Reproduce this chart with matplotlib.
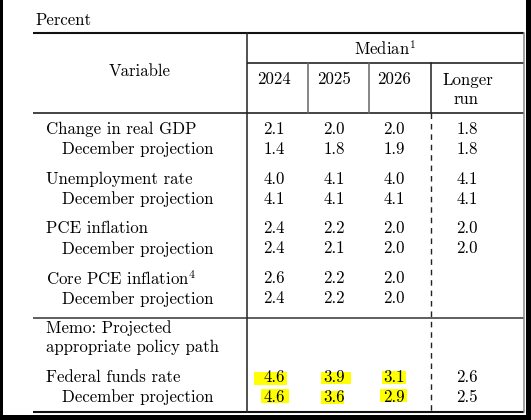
import matplotlib
matplotlib.use("Agg")
import matplotlib.pyplot as plt
from matplotlib.patches import Rectangle

plt.rcParams['font.family'] = ['cmr10', 'DejaVu Serif']
plt.rcParams['mathtext.fontset'] = 'cm'
plt.rcParams['axes.unicode_minus'] = False

# ---------------- data ----------------
unit_label = "Percent"
header_group = "Median$^1$"
header_var = "Variable"
columns = ["2024", "2025", "2026", "Longer\nrun"]

row_labels = ["Change in real GDP", "December projection",
              "Unemployment rate", "December projection",
              "PCE inflation", "December projection",
              "Core PCE inflation$^4$", "December projection",
              "Memo: Projected", "appropriate policy path",
              "Federal funds rate", "December projection"]
row_indent = [0, 1, 0, 1, 0, 1, 0, 1, 0, 0, 0, 1]

vals_2024 = [2.1, 1.4, 4.0, 4.1, 2.4, 2.4, 2.6, 2.4, None, None, 4.6, 4.6]
vals_2025 = [2.0, 1.8, 4.1, 4.1, 2.2, 2.1, 2.2, 2.2, None, None, 3.9, 3.6]
vals_2026 = [2.0, 1.9, 4.0, 4.1, 2.0, 2.0, 2.0, 2.0, None, None, 3.1, 2.9]
vals_longer = [1.8, 1.8, 4.1, 4.1, 2.0, 2.0, None, None, None, None, 2.6, 2.5]
value_cols = [vals_2024, vals_2025, vals_2026, vals_longer]

# highlighted cells (row index, column index)
highlighted = [(10, 0), (10, 1), (10, 2), (11, 0), (11, 1), (11, 2)]

# ---------------- layout (pixels) ----------------
W, H = 531, 420
row_y = [129.5, 149.3, 179.2, 199.2, 228.6, 248.6, 278.6, 298.6, 327.6, 347.6, 377, 397.5]
col_x = [274, 334, 394, 467]
label_x = [45.5, 62.5]
FS = 12.1
TXT = '#000000'

# per-cell highlight boxes: (dx, dy, w, h) relative to cell center
hl_geom = {(10, 0): (-3.5, 1.5, 33, 13), (10, 1): (2, 1.2, 30, 12), (10, 2): (-0.3, 0.4, 24, 13.3),
           (11, 0): (1, -1.2, 28, 14), (11, 1): (-1.5, 0, 23, 13), (11, 2): (-1, -2, 27, 13)}

fig = plt.figure(figsize=(W / 100, H / 100), dpi=100)
ax = fig.add_axes([0, 0, 1, 1])
ax.set_xlim(0, W)
ax.set_ylim(H, 0)
ax.axis('off')

# highlights
for (r, c) in highlighted:
    dx, dy, w, h = hl_geom[(r, c)]
    cx, cy = col_x[c] + dx, row_y[r] + dy
    ax.add_patch(Rectangle((cx - w / 2, cy - h / 2), w, h, facecolor='#ffff00',
                           edgecolor='none', zorder=1))

# lines
dark = '#111111'
grey = '#666666'
ax.plot([33, 523.5], [33.3, 33.3], color=dark, lw=1.5, solid_capstyle='butt')
ax.plot([33, 523.5], [113.3, 113.3], color=dark, lw=1.1, solid_capstyle='butt')
ax.plot([33, 523.5], [317.7, 317.7], color='#333333', lw=1.1, solid_capstyle='butt')
ax.plot([33, 523.5], [411.7, 411.7], color=dark, lw=1.5, solid_capstyle='butt')
ax.plot([246.5, 523.5], [63.3, 63.3], color=dark, lw=1.1, solid_capstyle='butt')
ax.plot([246.5, 246.5], [33.3, 411.7], color='#222222', lw=1.1)
for sx in [307.5, 369.2]:
    ax.plot([sx, sx], [63.3, 113.3], color=grey, lw=1.1)
ax.plot([430.8, 430.8], [63.3, 113.3], color='#222222', lw=1.1)
ax.plot([430.8, 430.8], [113.3, 411.7], color='#222222', lw=1.0, linestyle=(0, (4, 3.5)))
ax.plot([523.6, 523.6], [33.3, 411.7], color='#888888', lw=1.1)

# header text
ax.text(35.6, 20.7, unit_label, fontsize=FS, color=TXT, ha='left', va='center')
ax.text(140, 71.7, header_var, fontsize=FS, color=TXT, ha='center', va='center')
ax.text(385, 48.5, header_group, fontsize=FS, color=TXT, ha='center', va='center')
for i, c in enumerate(columns):
    if '\n' in c:
        a, b = c.split('\n')
        ax.text(col_x[i] + 1, 80, a, fontsize=FS, color=TXT, ha='center', va='center')
        ax.text(col_x[i] - 1, 99.5, b, fontsize=FS, color=TXT, ha='center', va='center')
    else:
        ax.text(col_x[i], 79, c, fontsize=FS, color=TXT, ha='center', va='center')

# body
for r, lab in enumerate(row_labels):
    ax.text(label_x[row_indent[r]], row_y[r], lab, fontsize=FS, color=TXT,
            ha='left', va='center', zorder=3)
    for c, col in enumerate(value_cols):
        v = col[r]
        if v is not None:
            ax.text(col_x[c], row_y[r], f"{v:.1f}", fontsize=FS, color=TXT,
                    ha='center', va='center', zorder=3)

# black frame strips
ax.add_patch(Rectangle((0, 0), 3, H, facecolor='black', edgecolor='none', zorder=5))
ax.add_patch(Rectangle((525.7, 0), W - 525.7, H, facecolor='black', edgecolor='none', zorder=5))
ax.add_patch(Rectangle((0, 415), W, 5, facecolor='black', edgecolor='none', zorder=5))

fig.savefig('out.png', dpi=100)
